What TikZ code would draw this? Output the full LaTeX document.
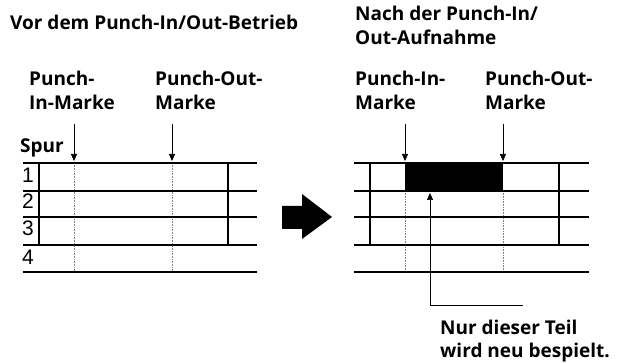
\documentclass[tikz,border=0pt]{standalone}
\usepackage{fontspec}
\setmainfont{Open Sans}
\newfontfamily\digitfont{Liberation Sans}
\usetikzlibrary{arrows.meta}

\begin{document}
\begin{tikzpicture}[
    x=1pt, y=-1pt,
    every node/.style={font=\fontsize{19}{24}\selectfont\bfseries, inner sep=0pt},
    lbl/.style={anchor=base west, align=left},
    num/.style={font=\fontsize{21}{21}\selectfont\digitfont, anchor=base west},
    track/.style={line width=1.4pt},
    frame/.style={line width=1.1pt},
    marker/.style={-{Triangle[length=7pt, width=6pt]}, line width=0.7pt},
    cut/.style={gray, densely dotted, line width=0.6pt},
]
\useasboundingbox (0,0) rectangle (624,363);

% titles and labels (base = last line)
\node[lbl] (titleL) at (10,30)  {Vor dem Punch-In/Out-Betrieb};
\node[lbl] (titleR) at (355,45) {Nach der Punch-In/\\Out-Aufnahme};
\node[lbl] (inL)    at (29,110) {Punch-\\In-Marke};
\node[lbl] (outL)   at (155,110) {Punch-Out-\\Marke};
\node[lbl] (inR)    at (355,110) {Punch-In-\\Marke};
\node[lbl] (outR)   at (485,110) {Punch-Out-\\Marke};
\node[lbl] (spur)   at (20,153) {Spur};
\node[lbl] (note)   at (440,358) {Nur dieser Teil\\wird neu bespielt.};

% left: tracks before
\node[num] (n1) at (22,183) {1};
\node[num] (n2) at (22,209) {2};
\node[num] (n3) at (22,236) {3};
\node[num] (n4) at (22,265) {4};
\draw[cut] (74,163) -- (74,272);
\draw[cut] (172,163) -- (172,272);
\foreach \y in {163,191,217,245,272}
    \draw[track] (23,\y) -- (257,\y);
\draw[frame] (39,163) -- (39,245);
\draw[frame] (228,163) -- (228,245);

% right: tracks after
\fill (405,163) rectangle (503,191);
\draw[cut] (405,191) -- (405,272);
\draw[cut] (503,191) -- (503,272);
\foreach \y in {163,191,217,245,272}
    \draw[track] (354,\y) -- (589,\y);
\draw[frame] (370,163) -- (370,245);
\draw[frame] (559,163) -- (559,245);

% punch marks
\coordinate (inTopL)  at (74,124);  \coordinate (inTipL)  at (74,161);
\coordinate (outTopL) at (172,124); \coordinate (outTipL) at (172,161);
\coordinate (inTopR)  at (405,124); \coordinate (inTipR)  at (405,161);
\coordinate (outTopR) at (503,124); \coordinate (outTipR) at (503,161);
\draw[marker] (inTopL)  -- (inTipL);
\draw[marker] (outTopL) -- (outTipL);
\draw[marker] (inTopR)  -- (inTipR);
\draw[marker] (outTopR) -- (outTipR);

% pointer to the new part
\coordinate (partEnd)  at (523,305);
\coordinate (partBend) at (430,305);
\coordinate (partTip)  at (430,193);
\draw[marker] (partEnd) -- (partBend) -- (partTip);

% big arrow
\fill (282,206) -- (302,206) -- (302,194) -- (332,217)
      -- (302,239) -- (302,229) -- (282,229) -- cycle;
\end{tikzpicture}
\end{document}
